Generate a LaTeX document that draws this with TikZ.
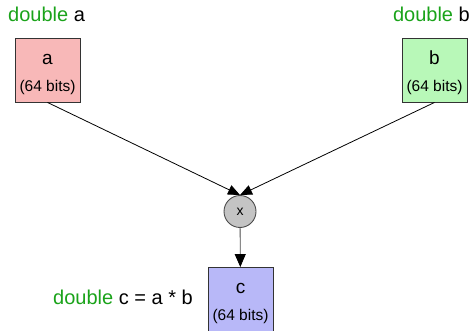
\documentclass[tikz,border=0pt]{standalone}
\usepackage{fontspec}
\setmainfont{Liberation Sans}
\usetikzlibrary{arrows.meta}
\definecolor{dgreen}{HTML}{1AA31A}
\definecolor{fa}{HTML}{F8B8B8}
\definecolor{fb}{HTML}{B8F8B8}
\definecolor{fc}{HTML}{B8B8F8}
\definecolor{fx}{HTML}{C4C4C4}
\tikzset{
  varbox/.style={draw=black!80, line width=0.9pt, minimum width=65pt, minimum height=64pt, inner sep=0pt},
  vname/.style={font=\fontsize{19}{22}\selectfont, inner sep=0pt, anchor=base},
  vbits/.style={font=\fontsize{15.5}{18}\selectfont, inner sep=0pt, anchor=base},
  opnode/.style={circle, draw=black!70, fill=fx, minimum size=32pt, inner sep=0pt, font=\fontsize{14}{16}\selectfont, line width=0.9pt},
  conn/.style={-{Triangle[length=12pt,width=10pt]}, line width=0.8pt},
  decl/.style={font=\fontsize{20}{22}\selectfont, inner sep=0pt}
}
\begin{document}
\begin{tikzpicture}[x=1pt,y=-1pt]
\useasboundingbox (0,0) rectangle (474,331);
\node[varbox, fill=fa] (a) at (47.5,70) {};
\node[vname] (an) at (47.5,65) {a};
\node[vbits] (ab) at (47.5,92) {(64 bits)};
\node[varbox, fill=fb] (b) at (434.5,70) {};
\node[vname] (bn) at (434.5,65) {b};
\node[vbits] (bb) at (434.5,92) {(64 bits)};
\node[varbox, fill=fc] (c) at (240.5,299.5) {};
\node[vname] (cn) at (240.5,294) {c};
\node[vbits] (cb) at (240.5,320) {(64 bits)};
\node[opnode] (x) at (240,211.5) {x};
\node[decl, anchor=base west] (da) at (8,22) {\textcolor{dgreen}{double} a};
\node[decl, anchor=base east] (db) at (470,22) {\textcolor{dgreen}{double} b};
\node[decl, anchor=base west] (dc) at (53,305) {\textcolor{dgreen}{double} c = a * b};
\draw[conn] (a.south) -- (x.north);
\draw[conn] (b.south) -- (x.north);
\draw[draw=black!70, line width=0.8pt, -{Triangle[length=13pt,width=11pt,color=black]}] (x) -- (c);
\end{tikzpicture}
\end{document}
